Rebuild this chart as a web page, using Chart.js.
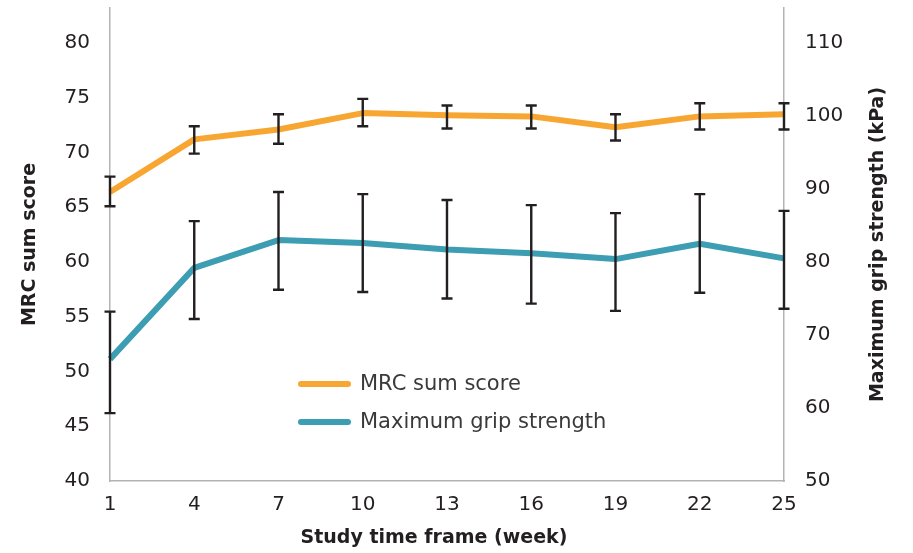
<!DOCTYPE html>
<html>
<head>
<meta charset="utf-8">
<script src="https://cdn.jsdelivr.net/npm/chart.js@4.4.1/dist/chart.umd.min.js"></script>
<style>
  html, body { margin: 0; padding: 0; background: #fff; }
  #wrap { width: 913px; height: 553px; position: relative; }
</style>
</head>
<body>
<div id="wrap"><canvas id="gripChart"></canvas></div>
<script>
// weeks on the x axis
const weeks = ['1', '4', '7', '10', '13', '16', '19', '22', '25'];

// MRC sum score (left axis), mean with error bar ends
const mrcMean = [66.4, 71.2, 72.1, 73.6, 73.4, 73.3, 72.3, 73.3, 73.5];
const mrcLow  = [65.1, 69.9, 70.8, 72.4, 72.2, 72.2, 71.1, 72.1, 72.1];
const mrcHigh = [67.8, 72.4, 73.5, 74.9, 74.3, 74.3, 73.5, 74.5, 74.5];

// Maximum grip strength in kPa (right axis)
const gripMean = [66.7, 79.2, 83.0, 82.6, 81.7, 81.2, 80.4, 82.5, 80.5];
const gripLow  = [59.3, 72.2, 76.2, 75.9, 75.0, 74.3, 73.3, 75.8, 73.6];
const gripHigh = [73.2, 85.6, 89.6, 89.3, 88.5, 87.8, 86.7, 89.3, 87.0];

const leftTicks = [40, 45, 50, 55, 60, 65, 70, 75, 80];
const rightTicks = [50, 60, 70, 80, 90, 100, 110];

const xTitle = 'Study time frame (week)';
const rightTitle = 'Maximum grip strength (kPa)';

const FONT = '"DejaVu Sans", sans-serif';
const axisGray = '#b3b3b3';
const textDark = '#231f20';

// draws the black error bars on top of the lines
const errorBarPlugin = {
    id: 'errorBars',
    afterDatasetsDraw(chart) {
        const ctx = chart.ctx;
        const xScale = chart.scales.x;
        ctx.save();
        ctx.strokeStyle = textDark;
        ctx.lineWidth = 2.4;
        chart.data.datasets.forEach(ds => {
            const yScale = chart.scales[ds.yAxisID];
            ds.data.forEach((v, i) => {
                const x = xScale.getPixelForValue(i);
                const y1 = yScale.getPixelForValue(ds.errLow[i]);
                const y2 = yScale.getPixelForValue(ds.errHigh[i]);
                ctx.beginPath();
                ctx.moveTo(x, y1);
                ctx.lineTo(x, y2);
                ctx.moveTo(x - 5.5, y1);
                ctx.lineTo(x + 5.5, y1);
                ctx.moveTo(x - 5.5, y2);
                ctx.lineTo(x + 5.5, y2);
                ctx.stroke();
            });
        });
        ctx.restore();
    }
};

// legend inside the plot, plus the x title and the right title (which reads bottom to top)
const extrasPlugin = {
    id: 'extras',
    afterDraw(chart) {
        const ctx = chart.ctx;
        const area = chart.chartArea;
        const x0 = area.left + 191;
        const y0 = area.top + 376;
        ctx.save();
        ctx.font = '21px ' + FONT;
        ctx.textBaseline = 'middle';
        ctx.lineCap = 'round';
        chart.data.datasets.forEach((ds, i) => {
            const y = y0 + i * 38;
            ctx.strokeStyle = ds.borderColor;
            ctx.lineWidth = 6;
            ctx.beginPath();
            ctx.moveTo(x0, y);
            ctx.lineTo(x0 + 47, y);
            ctx.stroke();
            ctx.fillStyle = '#3a3a3a';
            ctx.fillText(ds.label, x0 + 59, y + 1);
        });

        ctx.fillStyle = textDark;
        ctx.font = 'bold 19px ' + FONT;
        ctx.textAlign = 'center';
        ctx.fillText(xTitle, area.left + 324, area.bottom + 57);

        ctx.translate(area.right + 94, (area.top + area.bottom) / 2);
        ctx.rotate(-Math.PI / 2);
        ctx.fillText(rightTitle, 0, 0);
        ctx.restore();
    }
};

const noEdgePadding = s => {
    s.paddingTop = 0;
    s.paddingBottom = 0;
    s.paddingLeft = 0;
    s.paddingRight = 0;
};

const ctx = document.getElementById('gripChart').getContext('2d');
new Chart(ctx, {
    type: 'line',
    data: {
        labels: weeks,
        datasets: [
            {
                label: 'MRC sum score',
                data: mrcMean,
                errLow: mrcLow,
                errHigh: mrcHigh,
                yAxisID: 'y',
                borderColor: '#f8a632',
                borderWidth: 6,
                pointRadius: 0,
                tension: 0,
                borderJoinStyle: 'round'
            },
            {
                label: 'Maximum grip strength',
                data: gripMean,
                errLow: gripLow,
                errHigh: gripHigh,
                yAxisID: 'y2',
                borderColor: '#3c9db3',
                borderWidth: 6,
                pointRadius: 0,
                tension: 0,
                borderJoinStyle: 'round'
            }
        ]
    },
    options: {
        responsive: true,
        maintainAspectRatio: false,
        animation: false,
        layout: { padding: { top: 8, left: 0, right: 0, bottom: 0 } },
        plugins: {
            legend: { display: false },
            tooltip: { enabled: false }
        },
        scales: {
            x: {
                offset: false,
                grid: { display: false, drawTicks: false },
                border: { display: true, color: axisGray, width: 1.5 },
                ticks: { color: textDark, font: { family: FONT, size: 20 }, padding: 12, maxRotation: 0 },
                afterFit: s => { noEdgePadding(s); s.height = 72; }
            },
            y: {
                position: 'left',
                min: 40,
                max: 83.2,
                grid: { display: false, drawTicks: false },
                border: { display: true, color: axisGray, width: 1.5 },
                afterBuildTicks: s => { s.ticks = leftTicks.map(v => ({ value: v })); },
                ticks: { color: textDark, font: { family: FONT, size: 20 }, padding: 20 },
                title: {
                    display: true,
                    text: 'MRC sum score',
                    color: textDark,
                    font: { family: FONT, size: 19, weight: 'bold' },
                    padding: { top: 19, bottom: 0 }
                },
                afterFit: s => { noEdgePadding(s); s.width = 110; }
            },
            y2: {
                position: 'right',
                min: 50,
                max: 114.8,
                grid: { display: false, drawTicks: false },
                border: { display: true, color: axisGray, width: 1.5 },
                afterBuildTicks: s => { s.ticks = rightTicks.map(v => ({ value: v })); },
                ticks: { color: textDark, font: { family: FONT, size: 20 }, padding: 21 },
                afterFit: s => { noEdgePadding(s); s.width = 129; }
            }
        }
    },
    plugins: [errorBarPlugin, extrasPlugin]
});
</script>
</body>
</html>
